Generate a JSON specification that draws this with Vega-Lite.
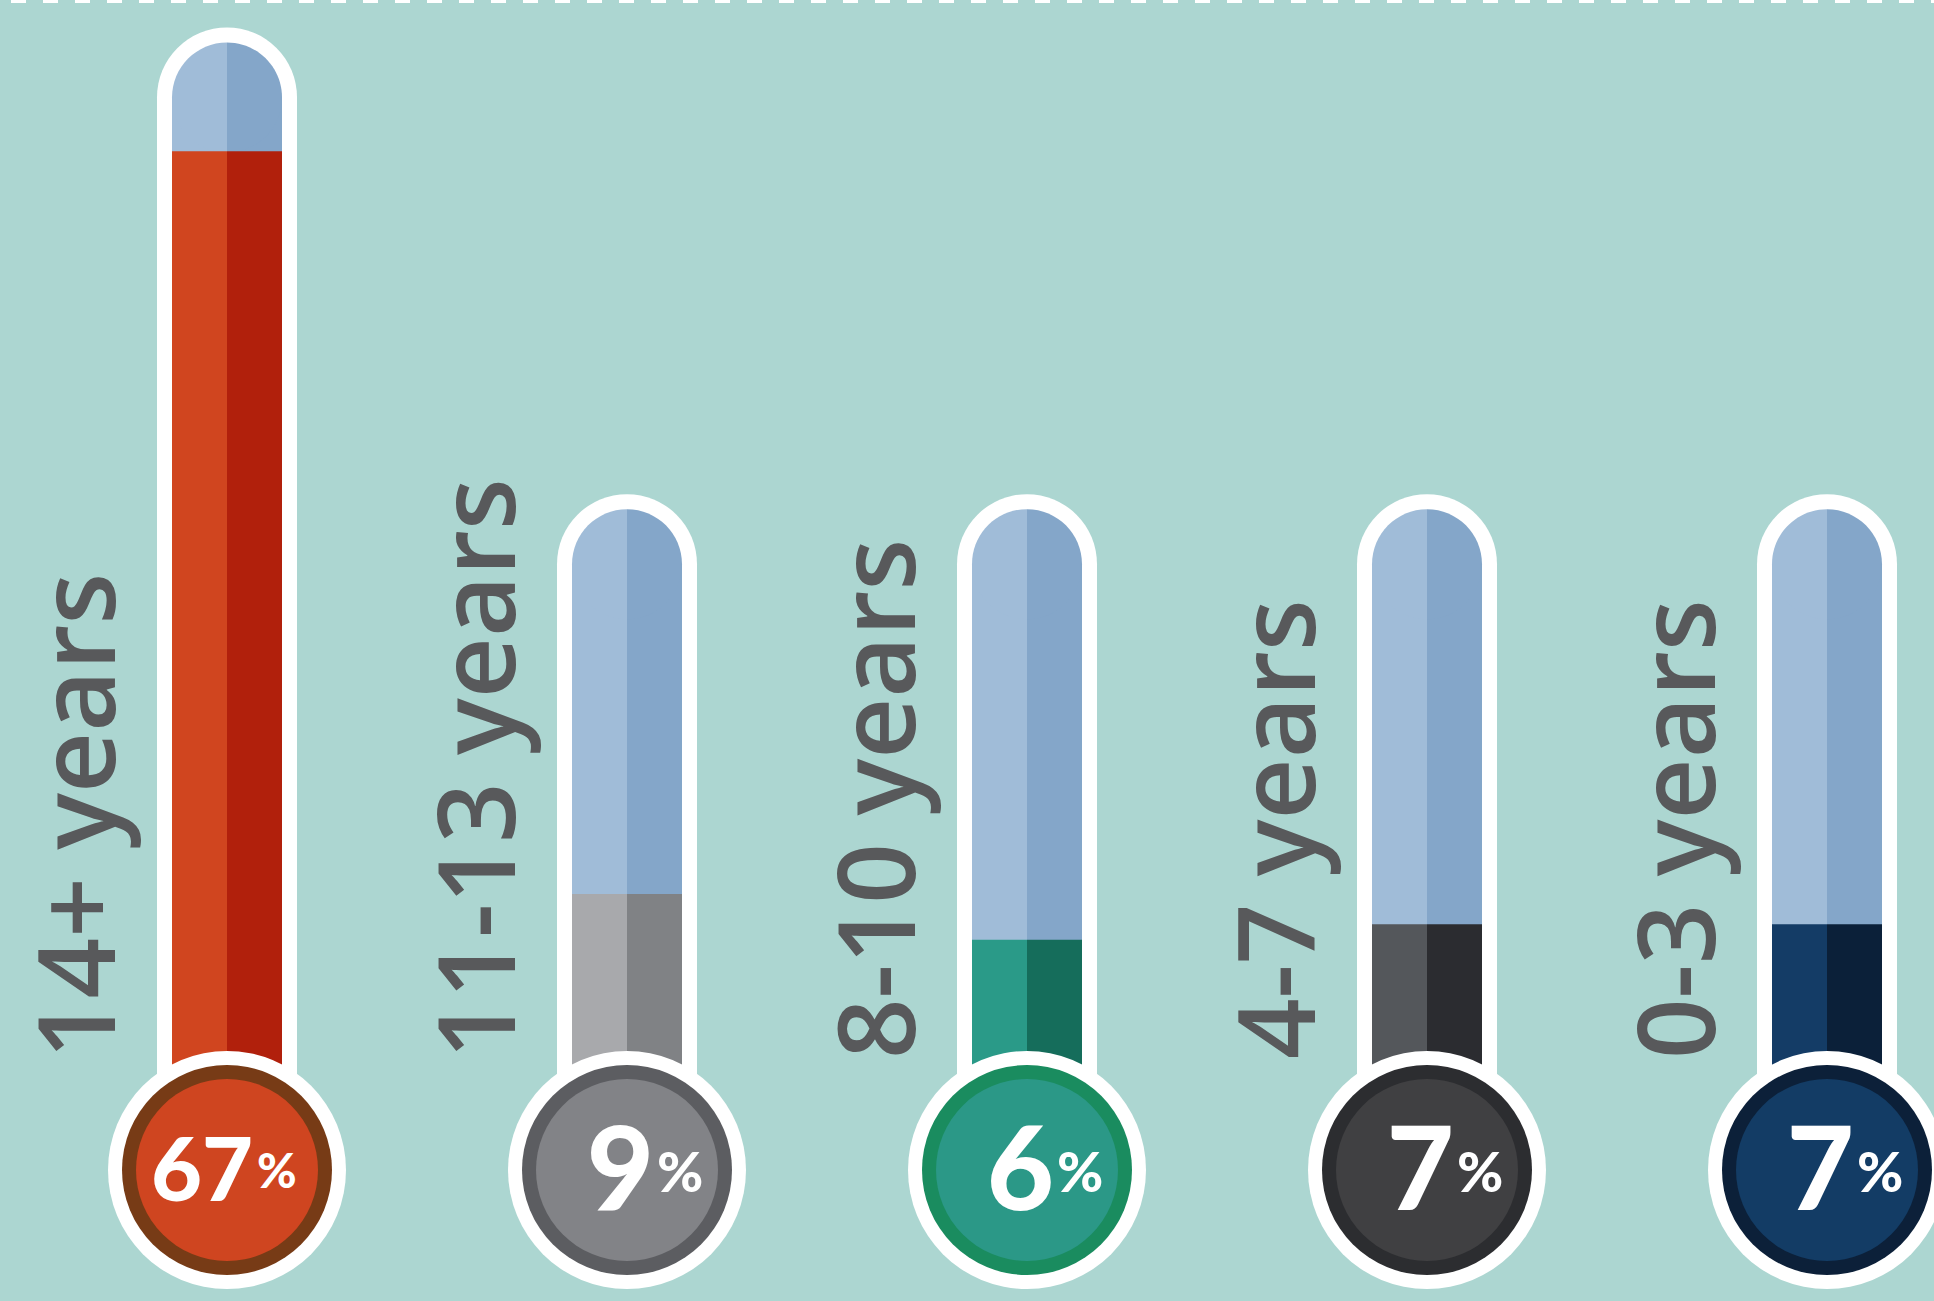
{
  "$schema": "https://vega.github.io/schema/vega-lite/v6.json",
  "width": 1934,
  "height": 1301,
  "autosize": {"type": "none"},
  "padding": 0,
  "background": "#acd6d1",
  "config": {"view": {"stroke": null}},
  "data": {
    "values": [
      {"group": "14+ years", "pct": 67, "tube_max": 71.6},
      {"group": "11-13 years", "pct": 9, "tube_max": 33.2},
      {"group": "8-10 years", "pct": 6, "tube_max": 33.2},
      {"group": "4-7 years", "pct": 7, "tube_max": 33.2},
      {"group": "0-3 years", "pct": 7, "tube_max": 33.2}
    ]
  },
  "layer": [
    {
      "mark": {"type": "rule", "color": "white", "strokeWidth": 6, "strokeDash": [15, 17], "strokeDashOffset": 12},
      "encoding": {"y": {"datum": 80, "type": "quantitative", "axis": null, "scale": {"type": "pow", "exponent": 0.88, "domain": [0, 80], "range": [1047, 0]}}}
    },
    {
      "encoding": {
        "x": {"field": "group", "type": "nominal", "axis": null, "scale": {"type": "point", "domain": ["14+ years", "11-13 years", "8-10 years", "4-7 years", "0-3 years"], "range": [227, 1827], "padding": 0}}
      },
      "resolve": {"scale": {"color": "independent"}},
      "layer": [
        {
          "mark": {"type": "bar", "width": 140, "color": "white", "y2Offset": 123},
          "encoding": {
            "y": {"field": "tube_max", "type": "quantitative", "axis": null, "scale": {"type": "pow", "exponent": 0.88, "domain": [0, 80], "range": [1047, 0]}},
            "y2": {"datum": 0}
          }
        },
        {
          "mark": {"type": "point", "shape": "circle", "filled": true, "size": 19600, "color": "white", "opacity": 1, "strokeWidth": 0},
          "encoding": {"y": {"field": "tube_max", "type": "quantitative"}}
        },
        {
          "mark": {"type": "bar", "width": 55, "xOffset": -27.5, "color": "#a0bcd8", "y2Offset": 123},
          "encoding": {"y": {"field": "tube_max", "type": "quantitative"}, "y2": {"datum": 0}}
        },
        {
          "mark": {"type": "bar", "width": 55, "xOffset": 27.5, "color": "#84a6c9", "y2Offset": 123},
          "encoding": {"y": {"field": "tube_max", "type": "quantitative"}, "y2": {"datum": 0}}
        },
        {
          "mark": {"type": "point", "shape": "M 0 -1 A 1 1 0 0 0 0 1 Z", "filled": true, "size": 12100, "color": "#a0bcd8", "opacity": 1, "strokeWidth": 0},
          "encoding": {"y": {"field": "tube_max", "type": "quantitative"}}
        },
        {
          "mark": {"type": "point", "shape": "M 0 -1 A 1 1 0 0 1 0 1 Z", "filled": true, "size": 12100, "color": "#84a6c9", "opacity": 1, "strokeWidth": 0},
          "encoding": {"y": {"field": "tube_max", "type": "quantitative"}}
        },
        {
          "mark": {"type": "bar", "width": 55, "xOffset": -27.5, "y2Offset": 123},
          "encoding": {
            "y": {"field": "pct", "type": "quantitative"},
            "y2": {"datum": 0},
            "color": {"field": "group", "type": "nominal", "legend": null, "scale": {"domain": ["14+ years", "11-13 years", "8-10 years", "4-7 years", "0-3 years"], "range": ["#d0451f", "#a8a9ac", "#2a9a88", "#54575b", "#143c66"]}}
          }
        },
        {
          "mark": {"type": "bar", "width": 55, "xOffset": 27.5, "y2Offset": 123},
          "encoding": {
            "y": {"field": "pct", "type": "quantitative"},
            "y2": {"datum": 0},
            "color": {"field": "group", "type": "nominal", "legend": null, "scale": {"domain": ["14+ years", "11-13 years", "8-10 years", "4-7 years", "0-3 years"], "range": ["#b1200c", "#808285", "#156d5b", "#2b2c30", "#0b2039"]}}
          }
        },
        {
          "mark": {"type": "point", "shape": "circle", "filled": true, "size": 56644, "color": "white", "opacity": 1, "strokeWidth": 0, "yOffset": 123},
          "encoding": {"y": {"datum": 0, "type": "quantitative"}}
        },
        {
          "mark": {"type": "point", "shape": "circle", "filled": true, "size": 44100, "opacity": 1, "strokeWidth": 0, "yOffset": 123},
          "encoding": {
            "y": {"datum": 0, "type": "quantitative"},
            "color": {"field": "group", "type": "nominal", "legend": null, "scale": {"domain": ["14+ years", "11-13 years", "8-10 years", "4-7 years", "0-3 years"], "range": ["#773b16", "#5c5d61", "#1a8c5f", "#2c2d30", "#0c2039"]}}
          }
        },
        {
          "mark": {"type": "point", "shape": "circle", "filled": true, "size": 33124, "opacity": 1, "strokeWidth": 0, "yOffset": 123},
          "encoding": {
            "y": {"datum": 0, "type": "quantitative"},
            "color": {"field": "group", "type": "nominal", "legend": null, "scale": {"domain": ["14+ years", "11-13 years", "8-10 years", "4-7 years", "0-3 years"], "range": ["#cf4520", "#828387", "#2b9887", "#404042", "#133c65"]}}
          }
        },
        {
          "mark": {"type": "text", "angle": 270, "align": "left", "baseline": "alphabetic", "font": "Open Sans", "fontWeight": 600, "fontSize": 106, "color": "#58595b", "xOffset": -112, "yOffset": 12},
          "encoding": {"y": {"datum": 0, "type": "quantitative"}, "text": {"field": "group"}}
        },
        {
          "transform": [{"filter": "datum.pct >= 10"}],
          "mark": {"type": "text", "align": "right", "baseline": "middle", "font": "Lato", "fontWeight": 900, "fontSize": 88, "color": "white", "xOffset": 26, "yOffset": 128},
          "encoding": {"y": {"datum": 0, "type": "quantitative"}, "text": {"field": "pct", "type": "quantitative"}}
        },
        {
          "transform": [{"filter": "datum.pct < 10"}],
          "mark": {"type": "text", "align": "right", "baseline": "middle", "font": "Lato", "fontWeight": 900, "fontSize": 116, "color": "white", "xOffset": 27, "yOffset": 128},
          "encoding": {"y": {"datum": 0, "type": "quantitative"}, "text": {"field": "pct", "type": "quantitative"}}
        },
        {
          "transform": [{"filter": "datum.pct >= 10"}],
          "mark": {"type": "text", "align": "left", "baseline": "alphabetic", "font": "Lato", "fontWeight": 900, "fontSize": 48, "color": "white", "xOffset": 30, "yOffset": 141},
          "encoding": {"y": {"datum": 0, "type": "quantitative"}, "text": {"value": "%"}}
        },
        {
          "transform": [{"filter": "datum.pct < 10"}],
          "mark": {"type": "text", "align": "left", "baseline": "alphabetic", "font": "Lato", "fontWeight": 900, "fontSize": 56, "color": "white", "xOffset": 30, "yOffset": 145},
          "encoding": {"y": {"datum": 0, "type": "quantitative"}, "text": {"value": "%"}}
        }
      ]
    }
  ]
}
